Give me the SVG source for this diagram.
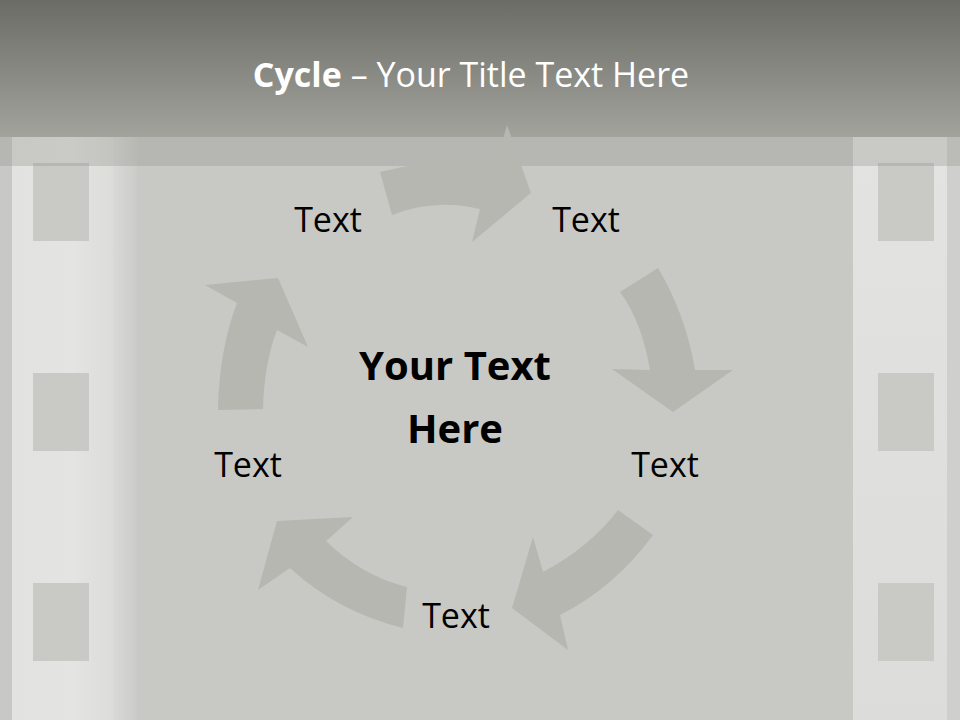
<svg xmlns="http://www.w3.org/2000/svg" width="960" height="720" viewBox="0 0 960 720">
  <defs>
    <linearGradient id="titleGrad" x1="0" y1="0" x2="0" y2="1">
      <stop offset="0" stop-color="#6b6c66"/>
      <stop offset="1" stop-color="#a2a39c"/>
    </linearGradient>
    <linearGradient id="stripL" x1="0" y1="0" x2="1" y2="0">
      <stop offset="0" stop-color="#e2e3e0"/>
      <stop offset="0.6" stop-color="#e4e5e2"/>
      <stop offset="1" stop-color="#dcdcd9"/>
    </linearGradient>
    <linearGradient id="edgeL" x1="0" y1="0" x2="1" y2="0">
      <stop offset="0" stop-color="#d9dad7"/>
      <stop offset="1" stop-color="#cbccc8"/>
    </linearGradient>
    <linearGradient id="stripR" x1="0" y1="0" x2="0" y2="1">
      <stop offset="0" stop-color="#e3e4e1"/>
      <stop offset="1" stop-color="#dcdddb"/>
    </linearGradient>
    <style>
      .hole { fill: #c9cac6; }
      .arrow { fill: #b6b7b0; }
      .lbl { font-family: "Open Sans", "DejaVu Sans", sans-serif; font-size: 34px; fill: #000; text-anchor: middle; }
      .center { font-family: "Open Sans", "DejaVu Sans", sans-serif; font-size: 40px; font-weight: bold; fill: #000; text-anchor: middle; }
      .title { font-family: "Open Sans", "DejaVu Sans", sans-serif; font-size: 34px; fill: #ffffff; text-anchor: middle; }
    </style>
  </defs>

  <g id="background">
    <rect x="0" y="0" width="960" height="720" fill="#c8c9c5"/>
    <rect x="12" y="137" width="101" height="583" fill="url(#stripL)"/>
    <rect x="113" y="137" width="24" height="583" fill="url(#edgeL)"/>
    <rect x="853" y="137" width="94" height="583" fill="url(#stripR)"/>
    <rect x="947" y="137" width="13" height="583" fill="#cfd0cd"/>
    <rect class="hole" x="33" y="163" width="56" height="78"/>
    <rect class="hole" x="33" y="373" width="56" height="78"/>
    <rect class="hole" x="33" y="583" width="56" height="78"/>
    <rect class="hole" x="878" y="163" width="56" height="78"/>
    <rect class="hole" x="878" y="373" width="56" height="78"/>
    <rect class="hole" x="878" y="583" width="56" height="78"/>
    <rect x="0" y="137" width="960" height="29" fill="#8a8b84" opacity="0.29"/>
    <rect x="0" y="0" width="960" height="137" fill="url(#titleGrad)"/>
  </g>

  <g id="title">
    <text class="title" x="471" y="87"><tspan font-weight="bold">Cycle</tspan> – Your Title Text Here</text>
  </g>

  <g id="connectors">
    <path class="arrow" d="M380,172 Q440,157 497,160 L507,125 L531,193 L472,242 L480,209 Q435,198 392,215 Z"/>
    <path class="arrow" d="M620,292 L658,268 Q686,315 695,370 L733,370 L673,412 L612,369 L650,370 Q642,322 620,292 Z"/>
    <path class="arrow" d="M618,510 L653,535 Q615,587 560,615 L568,650 L512,608 L533,537 L543,572 Q590,547 618,510 Z"/>
    <path class="arrow" d="M407,587 L403,628 Q338,612 290,568 L258,590 L277,521 L353,517 L326,541 Q362,576 407,587 Z"/>
    <path class="arrow" d="M218,410 L263,409 Q264,364 277,330 L308,347 L278,278 L205,285 L237,303 Q219,350 218,410 Z"/>
  </g>

  <g id="center">
    <text class="center" x="455" y="380">Your Text</text>
    <text class="center" x="455" y="443">Here</text>
  </g>

  <g id="node-top-left"><text class="lbl" x="328" y="232">Text</text></g>
  <g id="node-top-right"><text class="lbl" x="586" y="232">Text</text></g>
  <g id="node-right"><text class="lbl" x="665" y="477">Text</text></g>
  <g id="node-bottom"><text class="lbl" x="456" y="628">Text</text></g>
  <g id="node-left"><text class="lbl" x="248" y="477">Text</text></g>
</svg>
